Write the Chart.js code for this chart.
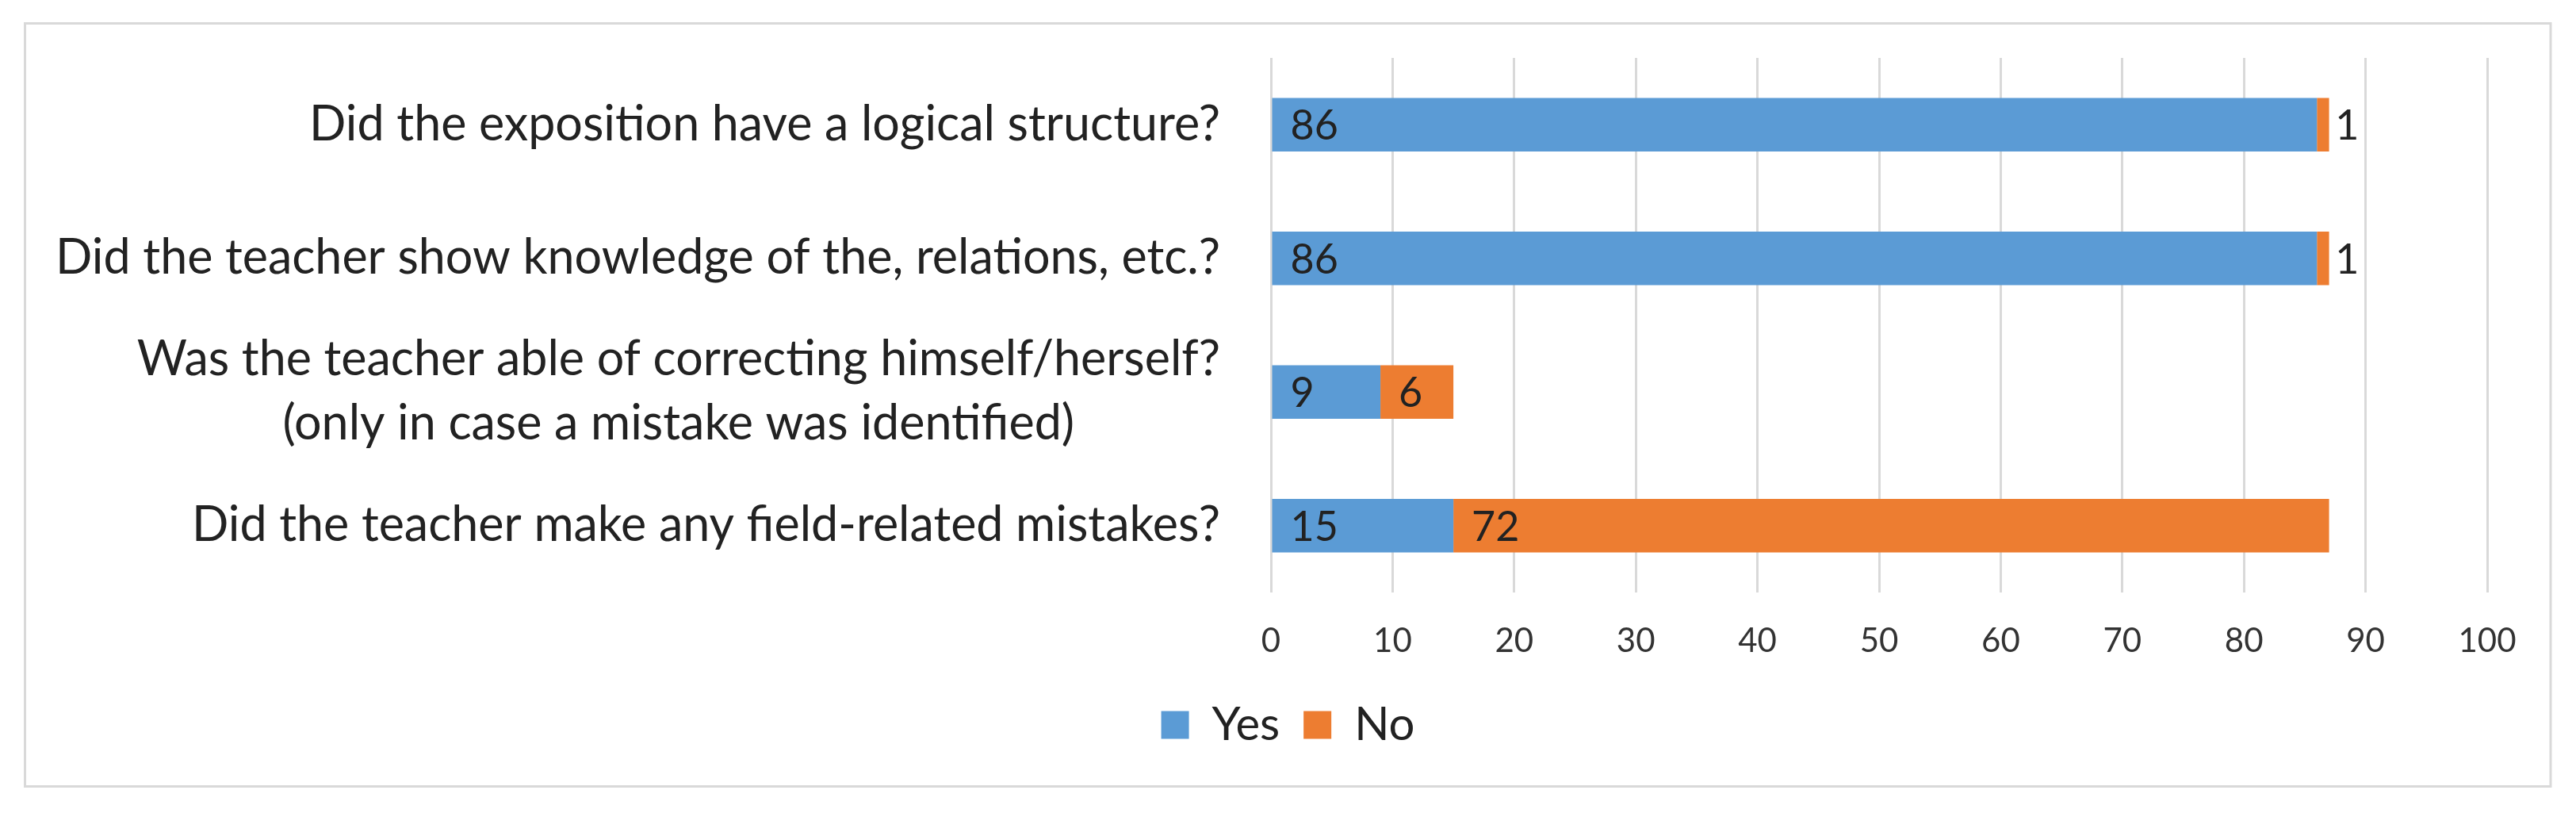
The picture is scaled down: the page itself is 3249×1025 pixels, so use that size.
<!DOCTYPE html>
<html>
<head>
<meta charset="utf-8">
<script src="https://cdn.jsdelivr.net/npm/chart.js@4.4.1/dist/chart.umd.min.js"></script>
<style>
  html, body { margin: 0; padding: 0; background: #fff; }
  #wrap { width: 3249px; height: 1025px; }
</style>
</head>
<body>
<div id="wrap"><canvas id="bar-chart" width="3249" height="1025"></canvas></div>
<script>
// categories, top to bottom
var questions = [
  "Did the exposition have a logical structure?",
  "Did the teacher show knowledge of the, relations, etc.?",
  ["Was the teacher able of correcting himself/herself?", "(only in case a mistake was identified)"],
  "Did the teacher make any field-related mistakes?"
];
var yesValues = [86, 86, 9, 15];
var noValues = [1, 1, 6, 72];
var xTicks = [0, 10, 20, 30, 40, 50, 60, 70, 80, 90, 100];

var FONT = "Lato";
var TEXT = "#222222";

// frame around the whole chart, like the exported Excel picture
var framePlugin = {
  id: 'frame',
  beforeDraw: function(chart) {
    var ctx = chart.ctx;
    ctx.save();
    ctx.fillStyle = '#ffffff';
    ctx.fillRect(0, 0, chart.width, chart.height);
    ctx.strokeStyle = '#d9d9d9';
    ctx.lineWidth = 3;
    ctx.strokeRect(31.5, 29.5, 3185.5, 962);
    ctx.restore();
  }
};

// category labels: block right aligned, lines centred on each other
var questionLabels = {
  id: 'questionLabels',
  afterDraw: function(chart) {
    var ctx = chart.ctx;
    var yScale = chart.scales.y;
    var right = chart.chartArea.left - 64;
    ctx.save();
    ctx.font = "61px " + FONT;
    ctx.fillStyle = TEXT;
    ctx.textAlign = 'center';
    ctx.textBaseline = 'middle';
    questions.forEach(function(q, i) {
      var lines = Array.isArray(q) ? q : [q];
      var maxW = 0;
      lines.forEach(function(l) { maxW = Math.max(maxW, ctx.measureText(l).width); });
      var cx = right - maxW / 2;
      var cy = yScale.getPixelForValue(i);
      var lh = 81;
      lines.forEach(function(l, j) {
        ctx.fillText(l, cx, cy + (j - (lines.length - 1) / 2) * lh);
      });
    });
    ctx.restore();
  }
};

// value labels at the base of each segment
var baseLabels = {
  id: 'baseLabels',
  afterDatasetsDraw: function(chart) {
    var ctx = chart.ctx;
    ctx.save();
    ctx.font = "52px " + FONT;
    ctx.fillStyle = TEXT;
    ctx.textAlign = 'left';
    ctx.textBaseline = 'middle';
    chart.data.datasets.forEach(function(ds, di) {
      var meta = chart.getDatasetMeta(di);
      meta.data.forEach(function(el, i) {
        var p = el.getProps(['x', 'y', 'base'], true);
        ctx.fillText(String(ds.data[i]), p.base + 23, p.y + 2);
      });
    });
    ctx.restore();
  }
};

new Chart(document.getElementById("bar-chart"), {
  type: 'bar',
  data: {
    labels: questions,
    datasets: [
      {
        label: "Yes",
        backgroundColor: "#5b9bd5",
        data: yesValues,
        categoryPercentage: 0.4,
        barPercentage: 1
      },
      {
        label: "No",
        backgroundColor: "#ed7d31",
        data: noValues,
        categoryPercentage: 0.4,
        barPercentage: 1
      }
    ]
  },
  options: {
    indexAxis: 'y',
    responsive: false,
    devicePixelRatio: 1,
    animation: false,
    layout: {
      padding: { left: 0, right: 0, top: 73, bottom: 72 }
    },
    scales: {
      x: {
        stacked: true,
        min: 0,
        max: 100,
        afterBuildTicks: function(scale) {
          scale.ticks = xTicks.map(function(v) { return { value: v }; });
        },
        afterFit: function(scale) { scale.height = 108; },
        grid: { color: '#d9d9d9', lineWidth: 3, drawTicks: false },
        border: { display: false },
        ticks: {
          padding: 36,
          color: '#333333',
          font: { family: FONT, size: 42 }
        }
      },
      y: {
        stacked: true,
        display: true,
        grid: { display: false },
        border: { display: false },
        ticks: { display: false },
        afterFit: function(scale) { scale.width = 1603; }
      },
      // empty spacer on the right so the plot ends at 100 where the picture does
      spacer: {
        type: 'linear',
        axis: 'y',
        position: 'right',
        display: true,
        grid: { display: false },
        border: { display: false },
        ticks: { display: false },
        afterFit: function(scale) { scale.width = 112; }
      }
    },
    plugins: {
      legend: {
        display: true,
        position: 'bottom',
        labels: {
          boxWidth: 35,
          boxHeight: 35,
          padding: 30,
          color: TEXT,
          font: { family: FONT, size: 58 }
        }
      },
      tooltip: { enabled: false }
    }
  },
  plugins: [framePlugin, questionLabels, baseLabels]
});
</script>
</body>
</html>
